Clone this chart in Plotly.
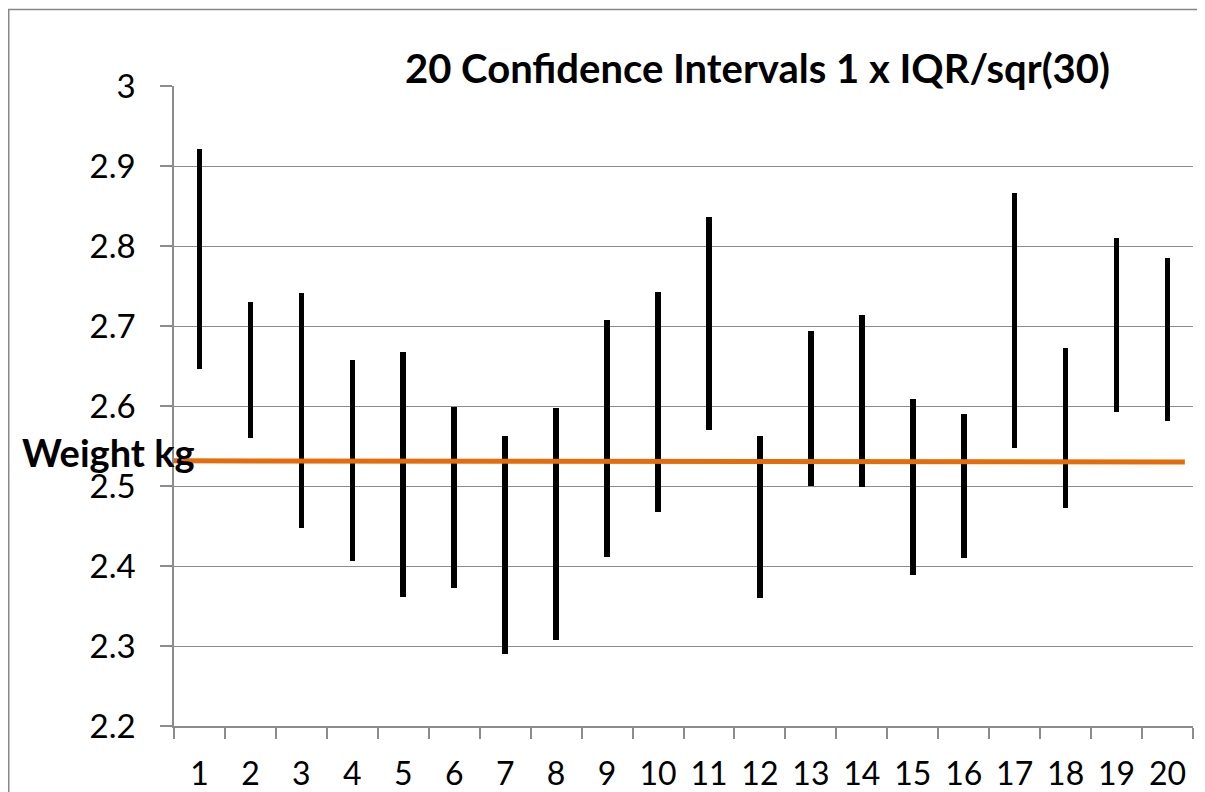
import plotly.graph_objects as go

# ---- data ----
categories = [str(i) for i in range(1, 21)]
ci_low = [2.646, 2.560, 2.447, 2.406, 2.361, 2.373, 2.290, 2.308, 2.411, 2.467,
          2.570, 2.360, 2.500, 2.499, 2.389, 2.410, 2.547, 2.472, 2.593, 2.581]
ci_high = [2.921, 2.730, 2.741, 2.658, 2.668, 2.599, 2.562, 2.598, 2.707, 2.742,
           2.836, 2.562, 2.694, 2.714, 2.609, 2.590, 2.866, 2.673, 2.810, 2.785]
mean_x = [0.5, 20.34]
mean_y = [2.5315, 2.530]
y_ticks = [2.2, 2.3, 2.4, 2.5, 2.6, 2.7, 2.8, 2.9, 3.0]
y_ticktext = ["2.2", "2.3", "2.4", "2.5", "2.6", "2.7", "2.8", "2.9", "3"]

title_text = "20 Confidence Intervals 1 x IQR/sqr(30)"
ytitle_text = "Weight kg"

FONT = "Lato"
GRID = "#8c8c8c"

fig = go.Figure()

fig.add_trace(go.Bar(
    x=categories,
    y=[h - l for h, l in zip(ci_high, ci_low)],
    base=ci_low,
    width=0.11,
    marker=dict(color="black", line=dict(width=0)),
    showlegend=False,
    hoverinfo="skip",
))

fig.add_trace(go.Scatter(
    x=mean_x, y=mean_y, xaxis="x2", mode="lines",
    line=dict(color="#E46C0A", width=5),
    showlegend=False, hoverinfo="skip",
))

fig.update_layout(
    width=1197, height=784,
    margin=dict(l=166, r=12, t=78, b=66, autoexpand=False),
    paper_bgcolor="white", plot_bgcolor="white",
    font=dict(family=FONT, color="black", size=32),
    xaxis=dict(
        type="category", range=[-0.5, 19.5],
        tickson="boundaries", ticks="outside", ticklen=11, tickwidth=1.5,
        tickcolor=GRID, showline=True, linecolor=GRID, linewidth=1.5,
        showgrid=False, zeroline=False,
        tickfont=dict(family=FONT, size=32, color="black"),
        ticklabelstandoff=19,
    ),
    xaxis2=dict(
        overlaying="x", range=[0.5, 20.5], visible=False,
    ),
    yaxis=dict(
        range=[2.2, 3.0], tickvals=y_ticks, ticktext=y_ticktext,
        ticks="outside", ticklen=12, tickwidth=1.5, tickcolor=GRID,
        showline=True, linecolor=GRID, linewidth=1.5,
        showgrid=True, gridcolor=GRID, gridwidth=1.2, zeroline=False,
        tickfont=dict(family=FONT, size=33, color="black"),
        ticklabelstandoff=18,
    ),
    bargap=0,
)

fig.add_annotation(
    text="<b>" + title_text + "</b>", xref="paper", yref="paper",
    x=0.573, y=1.0274, xanchor="center", yanchor="middle", showarrow=False,
    font=dict(family=FONT, size=40, color="black"),
)
fig.add_annotation(
    text="<b>" + ytitle_text + "</b>", xref="paper", yref="paper",
    x=-0.1511, y=0.4285, xanchor="left", yanchor="middle", showarrow=False,
    font=dict(family=FONT, size=38, color="black"),
)

fig.add_shape(
    type="rect", xref="paper", yref="paper",
    x0=-0.1622, y0=-0.2, x1=1.1, y1=1.1196,
    line=dict(color="#868686", width=1.5), fillcolor="rgba(0,0,0,0)",
    layer="below",
)

fig.write_html("out.html")
